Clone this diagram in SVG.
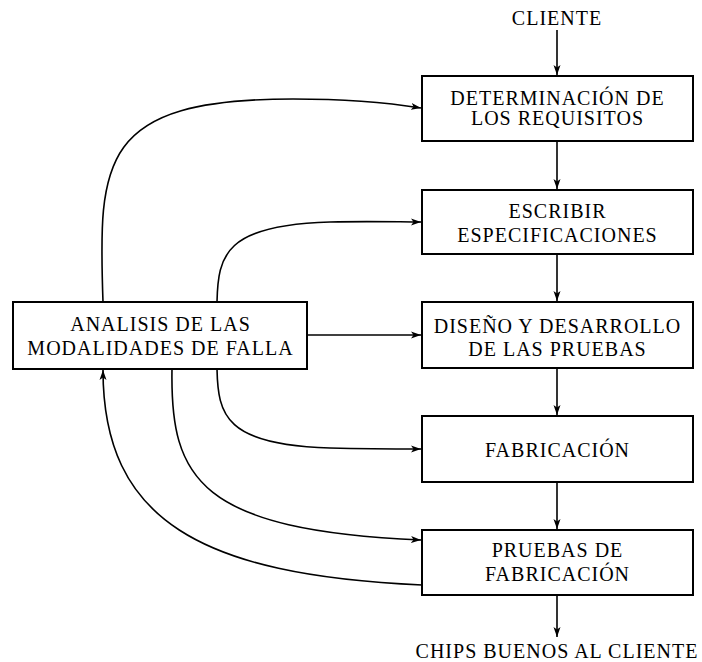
<svg xmlns="http://www.w3.org/2000/svg" width="702" height="662" viewBox="0 0 702 662">
<style>
.box{fill:#fff;stroke:#000;stroke-width:2}
.t{font-family:"Liberation Serif","Times New Roman",serif;font-size:20px;letter-spacing:1px;text-anchor:middle;fill:#000}
.c{fill:none;stroke:#000;stroke-width:1.6}
</style>
<defs>
<marker id="ah" viewBox="0 0 10 8" refX="10" refY="4" markerWidth="10" markerHeight="8" markerUnits="userSpaceOnUse" orient="auto">
<path d="M0,0.5 L10,4 L0,7.5 L2.5,4 Z" fill="#000"/>
</marker>
</defs>
<g id="connectors">
<path class="c" d="M557,30 L557,75" marker-end="url(#ah)"/>
<path class="c" d="M557,141 L557,189" marker-end="url(#ah)"/>
<path class="c" d="M557,254 L557,301" marker-end="url(#ah)"/>
<path class="c" d="M557,368 L557,415" marker-end="url(#ah)"/>
<path class="c" d="M557,482 L557,529" marker-end="url(#ah)"/>
<path class="c" d="M557,595 L557,637" marker-end="url(#ah)"/>
<path class="c" d="M307,335 L421,335" marker-end="url(#ah)"/>
<path class="c" d="M103,302 C98,160 100,99 293,99 C350,99 390,103 421,108" marker-end="url(#ah)"/>
<path class="c" d="M217,302 C218,255 225,225 330,222 C370,221 400,222 421,222" marker-end="url(#ah)"/>
<path class="c" d="M217,369 C218,415 225,445 330,448 C370,449 400,449 421,449" marker-end="url(#ah)"/>
<path class="c" d="M172,369 C170,480 200,530 421,540" marker-end="url(#ah)"/>
<path class="c" d="M422,585 C200,575 103,520 103,370" marker-end="url(#ah)"/>
</g>
<g id="cliente"><text class="t" x="557" y="25">CLIENTE</text></g>
<g id="requisitos">
<rect class="box" x="422" y="76" width="271" height="65"/>
<text class="t" x="557.5" y="104.5">DETERMINACIÓN DE</text>
<text class="t" x="557.5" y="124.5">LOS REQUISITOS</text>
</g>
<g id="especificaciones">
<rect class="box" x="422" y="190" width="271" height="64"/>
<text class="t" x="557.5" y="218">ESCRIBIR</text>
<text class="t" x="557.5" y="242">ESPECIFICACIONES</text>
</g>
<g id="diseno">
<rect class="box" x="422" y="302" width="271" height="66"/>
<text class="t" x="557.5" y="333">DISEÑO Y DESARROLLO</text>
<text class="t" x="557.5" y="356">DE LAS PRUEBAS</text>
</g>
<g id="fabricacion">
<rect class="box" x="422" y="416" width="271" height="66"/>
<text class="t" x="557.5" y="457">FABRICACIÓN</text>
</g>
<g id="pruebas">
<rect class="box" x="422" y="530" width="271" height="65"/>
<text class="t" x="557.5" y="557">PRUEBAS DE</text>
<text class="t" x="557.5" y="581">FABRICACIÓN</text>
</g>
<g id="analisis">
<rect class="box" x="13" y="302" width="294" height="67"/>
<text class="t" x="160.5" y="331">ANALISIS DE LAS</text>
<text class="t" x="160.5" y="355">MODALIDADES DE FALLA</text>
</g>
<g id="chips"><text class="t" x="557" y="658">CHIPS BUENOS AL CLIENTE</text></g>
</svg>
